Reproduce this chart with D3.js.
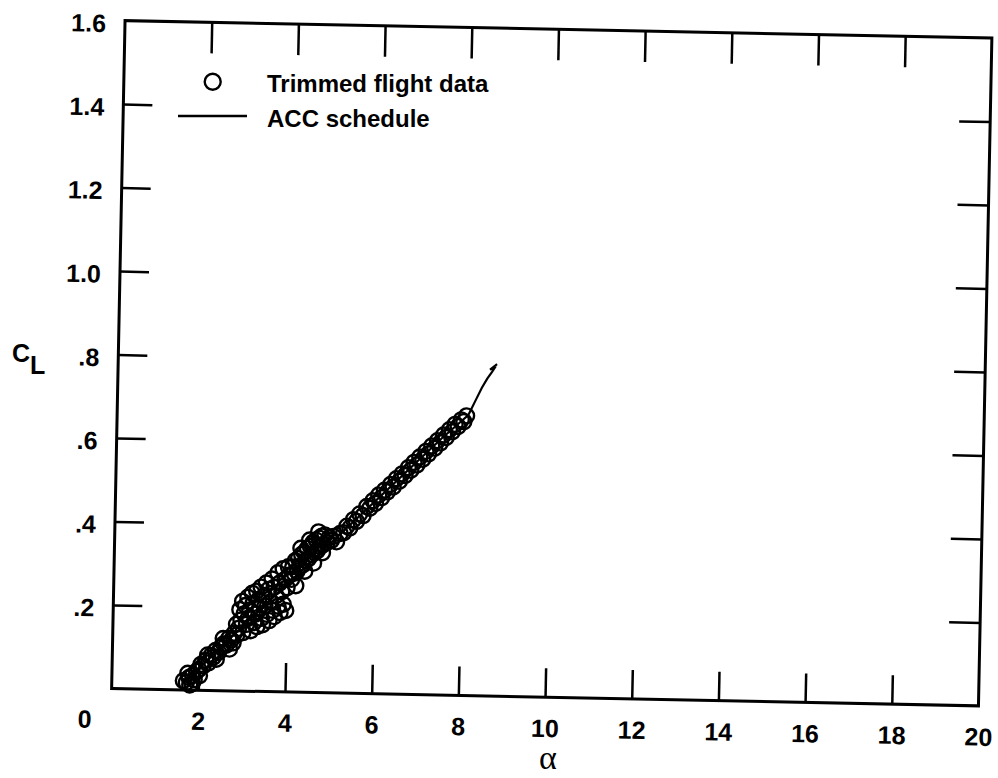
<!DOCTYPE html>
<html>
<head>
<meta charset="utf-8">
<script src="https://cdn.jsdelivr.net/npm/d3@7"></script>
<style>
  html, body { margin: 0; padding: 0; background: #fff; }
  svg { display: block; }
  text { font-family: "Liberation Sans", Arial, Helvetica, sans-serif; font-weight: bold; fill: #000; }
</style>
</head>
<body>
<svg id="chart" width="998" height="778"></svg>
<script>
// ---------------- data ----------------
const xTickValues = [0, 2, 4, 6, 8, 10, 12, 14, 16, 18, 20];
const xTickLabels = ["0", "2", "4", "6", "8", "10", "12", "14", "16", "18", "20"];
const yTickValues = [0.2, 0.4, 0.6, 0.8, 1.0, 1.2, 1.4, 1.6];
const yTickLabels = [".2", ".4", ".6", ".8", "1.0", "1.2", "1.4", "1.6"];

const legendLabels = ["Trimmed flight data", "ACC schedule"];

// Trimmed flight data (alpha, CL)
const flightAlpha = [
  1.65,1.72,1.75,1.78,1.80,1.85,1.86,1.90,1.95,2.00,2.02,2.05,2.10,2.16,2.20,2.22,2.28,2.33,2.38,2.40,2.45,2.50,2.55,2.56,2.62,2.68,2.70,2.74,2.78,2.80,2.85,2.86,
  2.90,2.92,2.95,2.98,3.00,3.02,3.05,3.08,3.10,3.12,3.15,3.18,3.20,3.22,3.25,3.28,3.30,3.32,3.35,3.38,3.40,3.42,3.45,3.48,
  3.50,3.52,3.55,3.58,3.60,3.62,3.65,3.68,3.70,3.72,3.75,3.78,3.80,3.82,3.85,3.88,3.90,3.92,3.95,3.98,4.00,4.02,4.05,
  4.10,4.12,4.15,4.18,4.20,4.22,4.25,4.28,4.30,4.32,4.35,4.38,4.40,4.42,4.45,4.48,4.50,4.52,4.55,4.58,4.60,4.62,4.65,4.68,4.70,4.72,4.75,4.78,4.80,4.82,4.85,4.90,4.95,5.00,5.05,
  5.12,5.20,5.28,5.35,5.42,5.50,5.57,5.64,5.72,5.80,5.87,5.94,6.00,6.07,6.14,6.20,6.27,6.34,6.40,6.47,6.54,6.60,6.67,6.74,6.80,6.87,6.94,
  7.00,7.07,7.14,7.20,7.27,7.34,7.40,7.47,7.54,7.60,7.67,7.74,7.80,7.87,7.94,8.00,8.06
];
const flightCL = [
  0.022,0.018,0.040,0.030,0.012,0.015,0.035,0.025,0.045,0.050,0.035,0.062,0.058,0.072,0.085,0.066,0.084,0.080,0.096,0.075,0.092,0.104,0.125,0.112,0.109,0.126,0.100,0.122,0.115,0.138,0.160,0.134,
  0.150,0.195,0.170,0.215,0.140,0.185,0.205,0.160,0.225,0.175,0.195,0.145,0.235,0.210,0.165,0.185,0.240,0.155,0.220,0.200,0.250,0.175,0.160,0.230,
  0.205,0.260,0.185,0.245,0.170,0.215,0.270,0.195,0.250,0.180,0.230,0.285,0.205,0.260,0.190,0.240,0.295,0.210,0.270,0.195,0.250,0.300,0.280,
  0.270,0.300,0.285,0.315,0.255,0.290,0.320,0.300,0.345,0.330,0.305,0.335,0.290,0.315,0.345,0.320,0.365,0.350,0.330,0.360,0.310,0.335,0.365,0.340,0.385,0.370,0.350,0.375,0.335,0.355,0.378,0.360,0.372,0.365,0.375,
  0.362,0.382,0.384,0.400,0.396,0.416,0.412,0.430,0.426,0.448,0.444,0.462,0.456,0.476,0.470,0.488,0.484,0.502,0.496,0.516,0.510,0.528,0.524,0.543,0.537,0.556,0.550,
  0.569,0.564,0.583,0.577,0.596,0.591,0.609,0.604,0.623,0.617,0.636,0.631,0.649,0.644,0.660,0.656,0.670
];

// ACC schedule (alpha, CL)
const accAlpha = [1.70, 3.00, 4.50, 6.00, 7.50, 8.10, 8.25, 8.40, 8.52, 8.62, 8.68, 8.58, 8.74];
const accCL    = [0.020, 0.156, 0.309, 0.462, 0.615, 0.672, 0.705, 0.738, 0.760, 0.775, 0.785, 0.782, 0.795];

// ---------------- layout ----------------
const svg = d3.select("#chart");
const X0 = 118.25, X1 = 985.25, Y0 = 29.25, Y1 = 697.25;
const cx = (X0 + X1) / 2, cy = (Y0 + Y1) / 2;

const x = d3.scaleLinear().domain([0, 20]).range([X0, X1]);
const y = d3.scaleLinear().domain([0, 1.6]).range([Y1, Y0]);

const g = svg.append("g").attr("transform", `rotate(1.15, ${cx}, ${cy})`);

// frame
g.append("rect")
  .attr("x", X0).attr("y", Y0).attr("width", X1 - X0).attr("height", Y1 - Y0)
  .attr("fill", "none").attr("stroke", "#000").attr("stroke-width", 3);

const isInner = v => v > 0 && v < 20;
const labelFont = "Liberation Sans, Arial, sans-serif";

// bottom axis
const axB = g.append("g").attr("transform", `translate(0,${Y1})`)
  .call(d3.axisBottom(x).tickValues(xTickValues).tickSizeInner(-29).tickSizeOuter(0).tickPadding(22)
    .tickFormat((d, i) => xTickLabels[i]));
axB.select(".domain").remove();
axB.selectAll(".tick line").attr("stroke", "#000").attr("stroke-width", 2.5)
  .attr("display", d => isInner(d) ? null : "none");
axB.selectAll(".tick text")
  .attr("font-size", 25).attr("font-family", labelFont).attr("font-weight", "bold")
  .attr("dx", d => d === 0 ? -27 : 0);

// top axis
const axT = g.append("g").attr("transform", `translate(0,${Y0})`)
  .call(d3.axisTop(x).tickValues(xTickValues.filter(isInner)).tickSizeInner(-31).tickSizeOuter(0).tickFormat(""));
axT.select(".domain").remove();
axT.selectAll(".tick line").attr("stroke", "#000").attr("stroke-width", 2.5);

// left axis
const axL = g.append("g").attr("transform", `translate(${X0},0)`)
  .call(d3.axisLeft(y).tickValues(yTickValues).tickSizeInner(-29).tickSizeOuter(0).tickPadding(19)
    .tickFormat((d, i) => yTickLabels[i]));
axL.select(".domain").remove();
axL.selectAll(".tick line").attr("stroke", "#000").attr("stroke-width", 2.5)
  .attr("display", d => d < 1.6 ? null : "none");
axL.selectAll(".tick text")
  .attr("font-size", 25).attr("font-family", labelFont).attr("font-weight", "bold")
  .attr("dy", "0.45em");

// right axis
const axR = g.append("g").attr("transform", `translate(${X1},0)`)
  .call(d3.axisRight(y).tickValues(yTickValues.filter(v => v < 1.6)).tickSizeInner(-31).tickSizeOuter(0).tickFormat(""));
axR.select(".domain").remove();
axR.selectAll(".tick line").attr("stroke", "#000").attr("stroke-width", 2.5);

// flight data circles
const pts = flightAlpha.map((a, i) => ({ a, c: flightCL[i] }));
g.append("g").selectAll("circle").data(pts).join("circle")
  .attr("cx", d => x(d.a)).attr("cy", d => y(d.c)).attr("r", 7.5)
  .attr("fill", "none").attr("stroke", "#000").attr("stroke-width", 2.4);

// ACC schedule line
const acc = accAlpha.map((a, i) => ({ a, c: accCL[i] }));
g.append("path").datum(acc)
  .attr("d", d3.line().x(d => x(d.a)).y(d => y(d.c)))
  .attr("fill", "none").attr("stroke", "#000").attr("stroke-width", 2.2);

// legend
const lg = svg.append("g");
lg.append("circle").attr("cx", 212.7).attr("cy", 81.7).attr("r", 8)
  .attr("fill", "none").attr("stroke", "#000").attr("stroke-width", 2.4);
lg.append("text").attr("x", 267).attr("y", 92).attr("font-size", 24).text(legendLabels[0]);
lg.append("line").attr("x1", 178).attr("x2", 247).attr("y1", 116).attr("y2", 116)
  .attr("stroke", "#000").attr("stroke-width", 2.4);
lg.append("text").attr("x", 267).attr("y", 127).attr("font-size", 24).text(legendLabels[1]);

// axis titles
const yt = svg.append("text").attr("x", 12).attr("y", 362).attr("font-size", 25);
yt.append("tspan").text("C");
yt.append("tspan").attr("dy", 12).text("L");

svg.append("text").attr("x", 548).attr("y", 769).attr("text-anchor", "middle")
  .attr("font-size", 34)
  .style("font-family", "'Liberation Serif', 'DejaVu Serif', serif").style("font-weight", "normal")
  .text("α");
</script>
</body>
</html>
